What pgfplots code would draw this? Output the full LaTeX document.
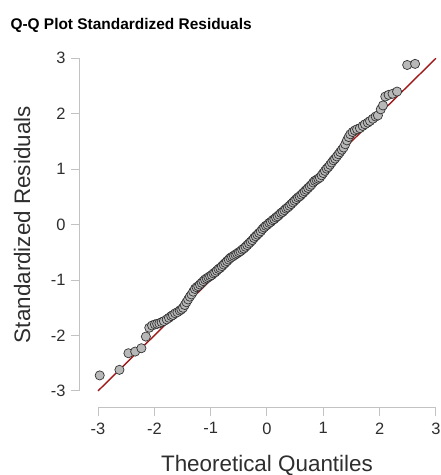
\documentclass[border=0pt]{standalone}
\usepackage{fontspec}
\setmainfont{Liberation Sans}
\usepackage{pgfplots}
\pgfplotsset{compat=1.18}

\definecolor{framegray}{HTML}{C2C2C2}
\definecolor{ticktext}{HTML}{2E2E2E}
\definecolor{qqred}{HTML}{A01818}
\definecolor{ptfill}{HTML}{B8B8B8}

% sample vs. theoretical quantiles
\pgfplotstableread{
x y
-2.97 -2.72
-2.62 -2.62
-2.46 -2.32
-2.34 -2.29
-2.23 -2.23
-2.15 -2.02
-2.09 -1.86
-2.04 -1.82
-1.99 -1.80
-1.95 -1.79
-1.91 -1.78
-1.87 -1.76
-1.83 -1.74
-1.78 -1.71
-1.74 -1.68
-1.70 -1.65
-1.67 -1.63
-1.63 -1.60
-1.59 -1.58
-1.55 -1.55
-1.52 -1.53
-1.49 -1.50
-1.46 -1.45
-1.43 -1.40
-1.40 -1.35
-1.37 -1.30
-1.34 -1.26
-1.31 -1.21
-1.28 -1.16
-1.25 -1.13
-1.22 -1.11
-1.19 -1.08
-1.16 -1.05
-1.13 -1.02
-1.10 -0.99
-1.07 -0.97
-1.04 -0.95
-1.01 -0.93
-0.98 -0.91
-0.95 -0.88
-0.92 -0.86
-0.89 -0.83
-0.86 -0.80
-0.83 -0.78
-0.80 -0.75
-0.77 -0.72
-0.74 -0.69
-0.71 -0.66
-0.68 -0.63
-0.65 -0.60
-0.62 -0.58
-0.59 -0.56
-0.56 -0.54
-0.53 -0.52
-0.50 -0.50
-0.47 -0.48
-0.44 -0.45
-0.41 -0.43
-0.38 -0.40
-0.35 -0.37
-0.32 -0.34
-0.29 -0.31
-0.26 -0.28
-0.23 -0.24
-0.20 -0.21
-0.17 -0.18
-0.14 -0.15
-0.11 -0.12
-0.08 -0.08
-0.05 -0.05
-0.02 -0.02
0.01 0.00
0.04 0.03
0.07 0.05
0.10 0.08
0.13 0.10
0.16 0.13
0.19 0.15
0.22 0.18
0.25 0.21
0.28 0.23
0.31 0.26
0.34 0.29
0.37 0.31
0.40 0.34
0.43 0.37
0.46 0.40
0.49 0.43
0.52 0.46
0.55 0.49
0.58 0.51
0.61 0.54
0.64 0.57
0.67 0.60
0.70 0.63
0.73 0.66
0.76 0.69
0.79 0.72
0.82 0.76
0.85 0.79
0.88 0.81
0.91 0.83
0.94 0.85
0.97 0.89
1.00 0.93
1.03 0.97
1.06 1.01
1.09 1.04
1.12 1.08
1.15 1.12
1.18 1.16
1.21 1.19
1.24 1.23
1.27 1.27
1.30 1.31
1.33 1.35
1.36 1.39
1.39 1.45
1.42 1.52
1.45 1.58
1.48 1.63
1.52 1.67
1.56 1.70
1.60 1.72
1.65 1.74
1.70 1.78
1.74 1.81
1.79 1.84
1.83 1.87
1.88 1.91
1.93 1.95
1.97 1.97
2.02 2.08
2.06 2.15
2.10 2.31
2.16 2.34
2.23 2.36
2.31 2.40
2.49 2.88
2.63 2.90
}\qqdata

\begin{document}
\begin{tikzpicture}
% page size fixed to the reference frame around the axis box
\path[use as bounding box] (-80bp,-68bp) rectangle (361bp,407bp);
\begin{axis}[
    scale only axis,
    width=361bp,
    height=352bp,
    xmin=-3.32, xmax=3.09,
    ymin=-3.29, ymax=3.06,
    clip=false,
    axis x line*=bottom,
    axis y line*=left,
    axis line style={draw=none},
    xtick={-3,-2,...,3},
    ytick={-3,-2,...,3},
    tick align=outside,
    major tick length=9bp,
    tick style={draw=framegray, line width=1bp},
    /pgf/number format/assume math mode=true,
    ticklabel style={font=\fontsize{16.5}{19}\selectfont, text=ticktext},
    xticklabel style={yshift=-3bp},
    yticklabel style={xshift=-2bp},
    xlabel={Theoretical Quantiles},
    ylabel={Standardized Residuals},
    label style={font=\fontsize{22.5}{26}\selectfont, text=ticktext},
    xlabel style={at={(axis cs:0,-3.29)}, anchor=center, yshift=-58bp},
    ylabel style={at={(axis cs:-3.32,0)}, anchor=center, rotate=0, yshift=58bp},
    title={Q-Q Plot Standardized Residuals},
    title style={font=\fontsize{15.5}{18}\selectfont\bfseries, text=black,
        at={(rel axis cs:0,1)}, anchor=west, xshift=-73bp, yshift=24bp},
]
% range frame axis lines
\draw[framegray, line width=1bp] (axis cs:-3.32,-3) -- (axis cs:-3.32,3);
\draw[framegray, line width=1bp] (axis cs:-3,-3.29) -- (axis cs:3,-3.29);
\addplot[qqred, line width=1.4bp] coordinates {(-3,-3) (3,3)};
\addplot[only marks, mark=*, mark size=4.6bp,
    mark options={fill=ptfill, draw=black!80, line width=0.7bp}] table[x=x, y=y] {\qqdata};
\end{axis}
\end{tikzpicture}
\end{document}
